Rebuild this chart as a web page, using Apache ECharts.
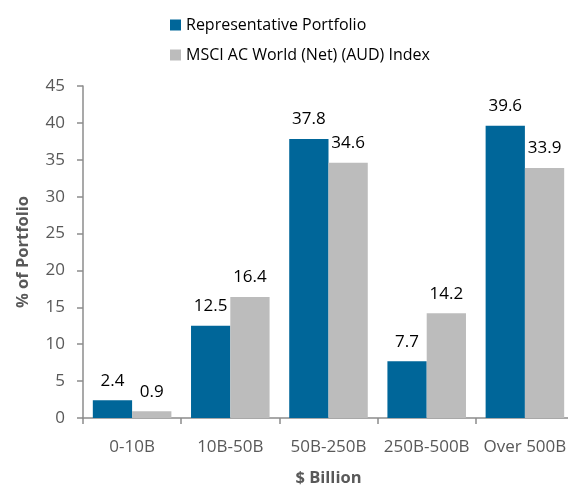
<!DOCTYPE html>
<html>
<head>
<meta charset="utf-8">
<script src="https://cdn.jsdelivr.net/npm/echarts@6/dist/echarts.min.js"></script>
<style>html,body{margin:0;padding:0;background:#fff}#c{width:568px;height:486px}</style>
</head>
<body>
<div id="c"></div>
<script>
const categories = ['0-10B', '10B-50B', '50B-250B', '250B-500B', 'Over 500B'];
const portfolio = [2.4, 12.5, 37.8, 7.7, 39.6];
const msci = [0.9, 16.4, 34.6, 14.2, 33.9];
const seriesNames = ['Representative Portfolio', 'MSCI AC World (Net) (AUD) Index'];
const yAxisName = '% of Portfolio';
const xAxisName = '$ Billion';

const FONT = 'Open Sans';
const chart = echarts.init(document.getElementById('c'), null, {renderer: 'canvas'});
const labelOpt = {show: true, position: 'top', distance: 11, fontSize: 17, color: '#000', fontFamily: FONT, formatter: p => p.value.toFixed(1)};
chart.setOption({
  animation: false,
  textStyle: {fontFamily: FONT},
  legend: {
    orient: 'vertical', left: 165, top: 12, itemWidth: 11, itemHeight: 11, itemGap: 14,
    icon: 'rect',
    textStyle: {fontSize: 16, color: '#000', fontFamily: FONT},
    data: seriesNames
  },
  grid: {left: 83, right: -6, top: 86, bottom: 68, containLabel: false, outerBoundsMode: 'none'},
  xAxis: {
    type: 'category', data: categories,
    name: xAxisName, nameLocation: 'middle', nameGap: 52,
    nameTextStyle: {fontSize: 16.5, fontWeight: 'bold', color: '#595959', fontFamily: FONT},
    axisLine: {lineStyle: {color: '#8c8c8c', width: 1.5}},
    axisTick: {show: true, length: 6, lineStyle: {color: '#8c8c8c', width: 1.5}},
    axisLabel: {fontSize: 17, color: '#595959', margin: 21, fontFamily: FONT, interval: 0}
  },
  yAxis: {
    type: 'value', min: 0, max: 45, interval: 5,
    name: yAxisName, nameLocation: 'middle', nameGap: 51, nameRotate: 90,
    nameTextStyle: {fontSize: 16.5, fontWeight: 'bold', color: '#595959', fontFamily: FONT},
    axisLine: {show: true, lineStyle: {color: '#8c8c8c', width: 1.5}},
    axisTick: {show: true, length: 6, lineStyle: {color: '#8c8c8c', width: 1.5}},
    axisLabel: {fontSize: 17, color: '#595959', margin: 18, fontFamily: FONT},
    splitLine: {show: false}
  },
  series: [
    {name: seriesNames[0], type: 'bar', data: portfolio, itemStyle: {color: '#006699'}, barGap: '0%', barCategoryGap: '20%', label: labelOpt},
    {name: seriesNames[1], type: 'bar', data: msci, itemStyle: {color: '#bcbcbc'}, label: labelOpt}
  ]
});
</script>
</body>
</html>
